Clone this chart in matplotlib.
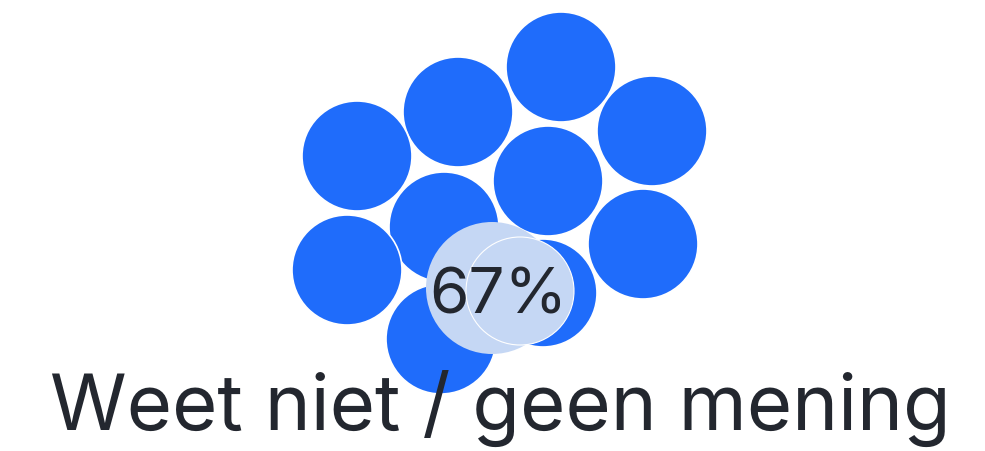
import matplotlib.pyplot as plt
from matplotlib.patches import Circle

# share shown in the highlighted bubbles
share = 67
label = "Weet niet / geen mening"

# bubble cluster, in pixel units of the 985x452 canvas
bubble_x = [561, 458, 357, 652, 548, 444, 643, 347, 441, 543, 492, 520]
bubble_y = [68, 113, 157, 132, 182, 228, 245, 271, 340, 294, 289, 292]
bubble_r = [55, 55, 55, 55, 55, 55, 55, 55, 55, 54, 66, 54]
highlight = [False] * 10 + [True, True]

blue = "#1f6cfb"
light = "#c5d7f4"
ink = "#23272f"

plt.rcParams['font.family'] = ['Inter', 'DejaVu Sans']

fig = plt.figure(figsize=(9.85, 4.52), dpi=100)
ax = fig.add_axes([0, 0, 1, 1])
ax.set_xlim(0, 985)
ax.set_ylim(452, 0)
ax.set_aspect('equal')
ax.axis('off')

for i, (x, y, r, hl) in enumerate(zip(bubble_x, bubble_y, bubble_r, highlight)):
    if hl:
        # the last light bubble gets a faint white rim so both lobes show
        lw = 0.8 if i == len(bubble_x) - 1 else 0
        ax.add_patch(Circle((x, y), r, facecolor=light,
                            edgecolor='white', linewidth=lw))
    else:
        ax.add_patch(Circle((x, y), r, facecolor=blue,
                            edgecolor='white', linewidth=1.2))

ax.text(498, 297, f"{share}%", ha='center', va='center',
        fontsize=46, color=ink)
ax.text(500, 430, label, ha='center', va='baseline',
        fontsize=56, color=ink)

fig.savefig("out.png", dpi=100)
